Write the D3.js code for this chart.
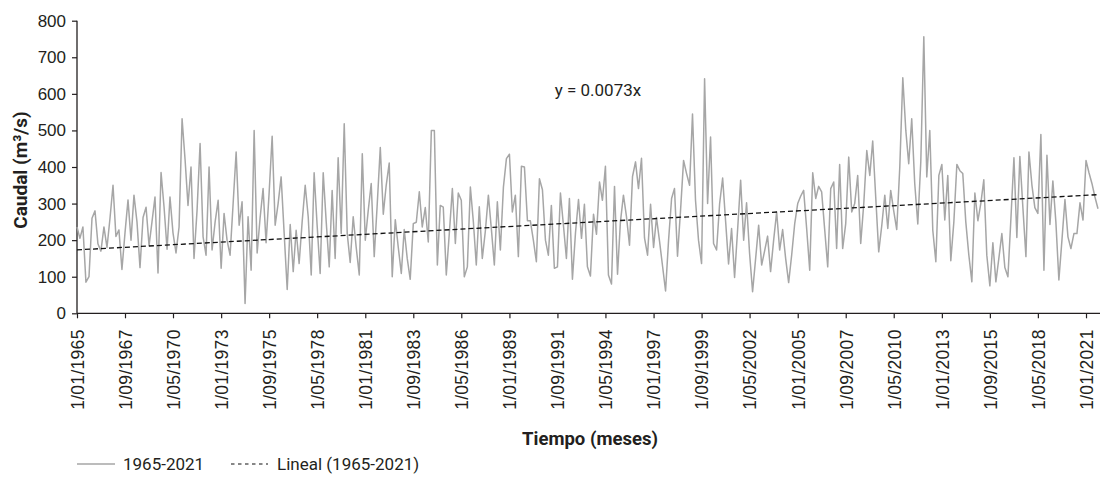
<!DOCTYPE html>
<html>
<head>
<meta charset="utf-8">
<script src="https://cdn.jsdelivr.net/npm/d3@7"></script>
<style>
  html, body { margin: 0; padding: 0; background: #ffffff; }
  svg { display: block; font-family: Roboto, "Noto Sans", sans-serif; }
</style>
</head>
<body>
<svg id="chart" width="1100" height="480"></svg>
<script>
// ---------------- data ----------------
const seriesName = "1965-2021";
const trendName = "Lineal (1965-2021)";
const trendLabel = "y = 0.0073x";
const trendSlope = 0.0073;          // per Excel date serial
const startDate = "1/01/1965";
const stepMonths = 2;
const yTicks = [0, 100, 200, 300, 400, 500, 600, 700, 800];
const tickLabels = ["1/01/1965","1/09/1967","1/05/1970","1/01/1973","1/09/1975","1/05/1978",
  "1/01/1981","1/09/1983","1/05/1986","1/01/1989","1/09/1991","1/05/1994","1/01/1997",
  "1/09/1999","1/05/2002","1/01/2005","1/09/2007","1/05/2010","1/01/2013","1/09/2015",
  "1/05/2018","1/01/2021"];
const flow = [
  236,205,236,85,100,260,280,190,170,236, 180,260,350,210,228,120,220,310,200,323,
  250,125,262,290,185,250,318,110,385,290, 175,318,220,165,236,532,420,295,400,150,
  282,464,209,159,400,173,250,309,123,273, 200,159,300,441,241,305,27,264,118,500,
  165,260,341,193,330,484,241,300,373,220, 65,243,114,227,136,250,350,264,105,384,
  240,109,384,250,127,336,150,425,218,518, 218,139,264,180,105,436,200,280,355,155,
  300,453,271,350,411,100,256,180,109,229, 150,93,245,249,332,236,289,195,500,500,
  132,295,290,105,220,341,191,329,309,100, 127,345,250,132,291,150,225,323,230,132,
  305,173,345,423,435,277,323,155,402,400, 253,253,200,141,368,338,200,159,295,123,
  127,329,240,150,314,93,220,311,205,298, 127,102,271,216,359,309,402,105,80,347,
  107,250,323,265,186,374,414,341,424,206, 159,298,180,262,198,130,61,200,314,341,
  156,280,418,382,350,545,309,200,136,641, 300,482,191,173,300,370,250,135,232,98,
  230,364,200,302,164,59,150,241,132,170, 211,114,200,277,173,229,150,84,160,245,
  300,320,336,232,118,384,314,347,332,230, 127,341,359,177,407,177,245,427,277,300,
  377,191,300,445,377,471,318,168,240,323, 232,336,280,229,400,644,500,409,532,355,
  244,415,756,373,500,227,141,377,407,255, 377,144,250,407,390,382,250,160,86,329,
  253,300,365,159,75,193,86,150,218,125, 100,260,425,207,429,290,155,441,350,289,
  273,489,118,432,243,362,250,91,200,311, 209,177,218,218,302,255,418,385,355,318,
  286
];

// ---------------- setup ----------------
const parse = d3.timeParse("%d/%m/%Y");
const t0 = parse(startDate);
const dates = flow.map((_, i) => d3.timeMonth.offset(t0, i * stepMonths));
const data = flow.map((v, i) => ({ date: dates[i], value: v }));
const excelSerial = d => (Date.UTC(d.getFullYear(), d.getMonth(), d.getDate()) - Date.UTC(1899, 11, 30)) / 864e5;

const svg = d3.select("#chart");
const W = 1100, H = 480;
const plot = { left: 77, right: 1098, top: 20.7, bottom: 313.3 };
const ink = "#231f20";

svg.append("rect").attr("width", W).attr("height", H).attr("fill", "#fff");

const x = d3.scaleTime()
  .domain([dates[0], dates[dates.length - 1]])
  .range([plot.left, plot.right]);
const y = d3.scaleLinear()
  .domain([0, 800])
  .range([plot.bottom, plot.top]);

// ---------------- axes ----------------
const yAxis = svg.append("g")
  .attr("transform", `translate(${plot.left},0)`)
  .call(d3.axisLeft(y).tickValues(yTicks).tickSize(5).tickSizeOuter(0).tickPadding(6));
yAxis.select(".domain").remove();
yAxis.selectAll(".tick line").attr("stroke", ink).attr("stroke-width", 1.2);
yAxis.selectAll(".tick text").attr("fill", ink).attr("font-size", 17);

const xAxis = svg.append("g")
  .attr("transform", `translate(0,${plot.bottom})`)
  .call(d3.axisBottom(x).tickValues(tickLabels.map(parse)).tickSize(5).tickSizeOuter(0)
    .tickFormat((d, i) => tickLabels[i]));
xAxis.select(".domain").remove();
xAxis.selectAll(".tick line").attr("stroke", ink).attr("stroke-width", 1.2);
xAxis.selectAll(".tick text")
  .attr("fill", ink)
  .attr("font-size", 17.5)
  .attr("letter-spacing", 0.3)
  .attr("text-anchor", "end")
  .attr("transform", "rotate(-90)")
  .attr("x", -16)
  .attr("y", 0)
  .attr("dy", "0.36em");

// axis lines
svg.append("line")
  .attr("x1", plot.left).attr("x2", plot.left)
  .attr("y1", y(800)).attr("y2", y(0))
  .attr("stroke", ink).attr("stroke-width", 1.3);
svg.append("line")
  .attr("x1", plot.left).attr("x2", W)
  .attr("y1", y(0)).attr("y2", y(0))
  .attr("stroke", ink).attr("stroke-width", 1.3);

// ---------------- series ----------------
const line = d3.line().x(d => x(d.date)).y(d => y(d.value));
svg.append("path")
  .datum(data)
  .attr("fill", "none")
  .attr("stroke", "#a6a6a6")
  .attr("stroke-width", 1.5)
  .attr("stroke-linejoin", "round")
  .attr("d", line);

// trend line y = slope * excel serial
const trendData = [dates[0], dates[dates.length - 1]].map(d => ({ date: d, value: trendSlope * excelSerial(d) }));
svg.append("path")
  .datum(trendData)
  .attr("fill", "none")
  .attr("stroke", "#111")
  .attr("stroke-width", 1.3)
  .attr("stroke-dasharray", "5,3")
  .attr("d", line);

// trend equation
svg.append("text")
  .attr("x", x(parse("1/12/1993")))
  .attr("y", y(595))
  .attr("text-anchor", "middle")
  .attr("font-size", 17)
  .attr("fill", ink)
  .text(trendLabel);

// ---------------- titles ----------------
svg.append("text")
  .attr("transform", `translate(20,${(plot.top + plot.bottom) / 2 + 3}) rotate(-90)`)
  .attr("text-anchor", "middle")
  .attr("dy", "0.35em")
  .attr("font-size", 19)
  .attr("font-weight", "bold")
  .attr("fill", ink)
  .text("Caudal (m³/s)");

svg.append("text")
  .attr("x", 590)
  .attr("y", 445)
  .attr("text-anchor", "middle")
  .attr("font-size", 18.5)
  .attr("font-weight", "bold")
  .attr("fill", ink)
  .text("Tiempo (meses)");

// ---------------- legend ----------------
const ly = 464;
const leg = svg.append("g");
leg.append("line").attr("x1", 77).attr("x2", 115).attr("y1", ly).attr("y2", ly)
  .attr("stroke", "#a6a6a6").attr("stroke-width", 1.5);
leg.append("text").attr("x", 123).attr("y", ly).attr("dy", "0.35em")
  .attr("font-size", 17).attr("fill", ink).text(seriesName);
leg.append("line").attr("x1", 231).attr("x2", 268).attr("y1", ly).attr("y2", ly)
  .attr("stroke", "#111").attr("stroke-width", 1.2).attr("stroke-dasharray", "3.5,3.5");
leg.append("text").attr("x", 277).attr("y", ly).attr("dy", "0.35em")
  .attr("font-size", 17).attr("fill", ink).text(trendName);
</script>
</body>
</html>
